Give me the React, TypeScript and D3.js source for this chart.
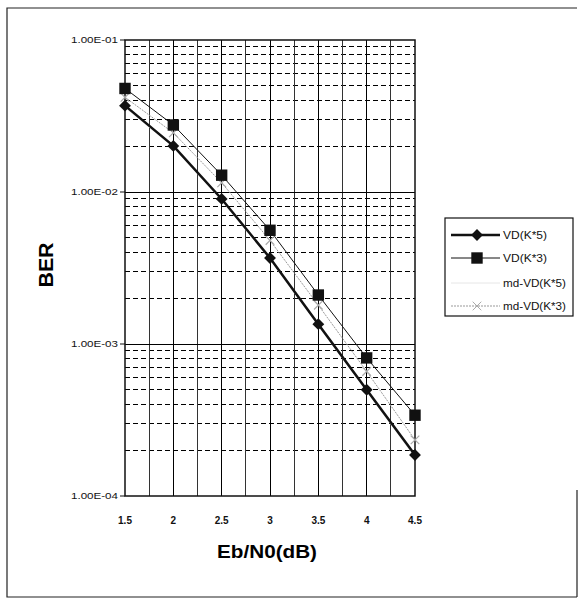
import React, { useRef, useEffect } from 'react';
import * as d3 from 'd3';

const ebn0 = [1.5, 2, 2.5, 3, 3.5, 4, 4.5];
const vdK5 = [0.037, 0.0201, 0.009, 0.00368, 0.00135, 0.0005, 0.000186];
const vdK3 = [0.048, 0.0276, 0.0129, 0.0056, 0.0021, 0.00081, 0.00034];
const mdK5 = [0.036, 0.0198, 0.0088, 0.0036, 0.00132, 0.00049, 0.00018];
const mdK3 = [0.042, 0.0245, 0.0115, 0.0048, 0.0018, 0.00066, 0.000234];
const xTicks = [1.5, 2, 2.5, 3, 3.5, 4, 4.5];
const yTicks = [1e-4, 1e-3, 1e-2, 1e-1];
const yTickLabels = ['1.00E-04', '1.00E-03', '1.00E-02', '1.00E-01'];
const legendLabels = ['VD(K*5)', 'VD(K*3)', 'md-VD(K*5)', 'md-VD(K*3)'];

const App = () => {
  const inputEl = useRef(null);

  var width = 579;
  var height = 599;
  var left = 125, right = 415, top = 40, bottom = 496;

  useEffect(() => {
    d3.select(inputEl.current).select('svg').remove();

    var svg = d3.select(inputEl.current).append('svg')
      .attr('width', width).attr('height', height)
      .style('position', 'absolute').style('left', 0).style('top', 0)
      .style('font-family', '"Liberation Sans", Arial, sans-serif');

    svg.append('rect').attr('width', width).attr('height', height).attr('fill', '#fff');

    // outer frame
    svg.append('path')
      .attr('d', 'M577,8 L7,8 L7,597 L577,597 M577,490 L577,597')
      .attr('fill', 'none').attr('stroke', '#222').attr('stroke-width', 1.2);

    var x = d3.scaleLinear().domain([1.5, 4.5]).range([left, right]);
    var y = d3.scaleLog().domain([1e-4, 1e-1]).range([bottom, top]);

    // minor horizontal grid (dashed)
    var minors = [];
    for (var e = -4; e < -1; e++) {
      for (var m = 2; m <= 9; m++) minors.push(m * Math.pow(10, e));
    }
    svg.append('g').attr('shape-rendering', 'crispEdges')
      .selectAll('line').data(minors).enter().append('line')
      .attr('x1', left).attr('x2', right)
      .attr('y1', d => y(d)).attr('y2', d => y(d))
      .attr('stroke', '#000').attr('stroke-width', 1).attr('stroke-dasharray', '5,3');

    // vertical grid every 0.25
    var vx = d3.range(1.75, 4.5, 0.25);
    svg.append('g').attr('shape-rendering', 'crispEdges')
      .selectAll('line').data(vx).enter().append('line')
      .attr('x1', d => x(d)).attr('x2', d => x(d))
      .attr('y1', top).attr('y2', bottom)
      .attr('stroke', (d, i) => (i % 2 === 1 ? '#000' : '#333')).attr('stroke-width', 1);

    // major horizontal grid
    svg.append('g').attr('shape-rendering', 'crispEdges')
      .selectAll('line').data(yTicks.slice(1, 3)).enter().append('line')
      .attr('x1', left).attr('x2', right)
      .attr('y1', d => y(d)).attr('y2', d => y(d))
      .attr('stroke', '#000').attr('stroke-width', 1);

    svg.append('rect')
      .attr('x', left).attr('y', top)
      .attr('width', right - left).attr('height', bottom - top)
      .attr('fill', 'none').attr('stroke', '#111').attr('stroke-width', 1.5);

    // y tick labels
    svg.append('g').selectAll('text').data(yTicks).enter().append('text')
      .attr('x', left - 7).attr('y', d => y(d) + 3)
      .attr('text-anchor', 'end').attr('font-size', 8.5).attr('fill', '#111')
      .attr('textLength', 47).attr('lengthAdjust', 'spacingAndGlyphs')
      .text((d, i) => yTickLabels[i]);
    svg.append('g').selectAll('line').data(yTicks).enter().append('line')
      .attr('x1', left - 5).attr('x2', left)
      .attr('y1', d => y(d)).attr('y2', d => y(d))
      .attr('stroke', '#111');

    // x tick labels
    svg.append('g').selectAll('text').data(xTicks).enter().append('text')
      .attr('x', d => x(d)).attr('y', 524)
      .attr('text-anchor', 'middle').attr('font-size', 10).attr('font-weight', 'bold')
      .attr('fill', '#111')
      .text(d => String(d));

    svg.append('text')
      .attr('x', 267).attr('y', 558).attr('text-anchor', 'middle')
      .attr('font-size', 19).attr('font-weight', 'bold')
      .attr('textLength', 100).attr('lengthAdjust', 'spacingAndGlyphs')
      .text('Eb/N0(dB)');

    svg.append('text')
      .attr('transform', 'translate(53,265) rotate(-90)')
      .attr('text-anchor', 'middle')
      .attr('font-size', 20).attr('font-weight', 'bold')
      .attr('textLength', 45).attr('lengthAdjust', 'spacingAndGlyphs')
      .text('BER');

    var line = d3.line().x(d => x(d[0])).y(d => y(d[1]));
    var pts = vals => ebn0.map((v, i) => [v, vals[i]]);

    // series
    svg.append('path').datum(pts(mdK5)).attr('d', line)
      .attr('fill', 'none').attr('stroke', '#e6e6e6').attr('stroke-width', 1);
    svg.append('path').datum(pts(mdK3)).attr('d', line)
      .attr('fill', 'none').attr('stroke', '#999').attr('stroke-width', 1).attr('stroke-dasharray', '2,1');
    svg.append('path').datum(pts(vdK3)).attr('d', line)
      .attr('fill', 'none').attr('stroke', '#111').attr('stroke-width', 1);
    svg.append('path').datum(pts(vdK5)).attr('d', line)
      .attr('fill', 'none').attr('stroke', '#111').attr('stroke-width', 2.5);

    var diamond = d3.symbol().type(d3.symbolSquare).size(70);
    var square = d3.symbol().type(d3.symbolSquare).size(130);
    var cross = d3.symbol().type(d3.symbolTimes).size(50);

    svg.append('g').selectAll('path').data(pts(mdK3)).enter().append('path')
      .attr('transform', d => 'translate(' + x(d[0]) + ',' + y(d[1]) + ')')
      .attr('d', cross).attr('fill', 'none').attr('stroke', '#aaa').attr('stroke-width', 1.2);
    svg.append('g').selectAll('path').data(pts(vdK3)).enter().append('path')
      .attr('transform', d => 'translate(' + x(d[0]) + ',' + y(d[1]) + ')')
      .attr('d', square).attr('fill', '#111');
    svg.append('g').selectAll('path').data(pts(vdK5)).enter().append('path')
      .attr('transform', d => 'translate(' + x(d[0]) + ',' + y(d[1]) + ') rotate(45)')
      .attr('d', diamond).attr('fill', '#111');

    // legend
    var lg = svg.append('g');
    lg.append('rect').attr('x', 445).attr('y', 218).attr('width', 128).attr('height', 98)
      .attr('fill', '#fff').attr('stroke', '#111').attr('stroke-width', 1.2);
    var ly = [235, 258, 283, 306];
    var styles = [
      { stroke: '#111', w: 2.5, dash: null, sym: diamond, fill: '#111', rot: 45 },
      { stroke: '#111', w: 1, dash: null, sym: square, fill: '#111', rot: 0 },
      { stroke: '#e6e6e6', w: 1, dash: null, sym: null, fill: null, rot: 0 },
      { stroke: '#999', w: 1, dash: '2,1', sym: cross, fill: null, rot: 0 }
    ];
    var labW = [44, 44, 63, 63];
    legendLabels.forEach((lab, i) => {
      var s = styles[i];
      lg.append('line').attr('x1', 451).attr('x2', 500).attr('y1', ly[i]).attr('y2', ly[i])
        .attr('stroke', s.stroke).attr('stroke-width', s.w).attr('stroke-dasharray', s.dash);
      if (s.sym) {
        lg.append('path').attr('transform', 'translate(477,' + ly[i] + ') rotate(' + s.rot + ')').attr('d', s.sym)
          .attr('fill', s.fill ? s.fill : 'none')
          .attr('stroke', s.fill ? 'none' : '#aaa');
      }
      lg.append('text').attr('x', 503).attr('y', ly[i] + 4)
        .attr('font-size', 10.5).attr('fill', '#111')
        .attr('textLength', labW[i]).attr('lengthAdjust', 'spacingAndGlyphs')
        .text(lab);
    });
  }, []);

  return <div ref={inputEl} style={{ width: width, height: height }}></div>;
};

export default App;
